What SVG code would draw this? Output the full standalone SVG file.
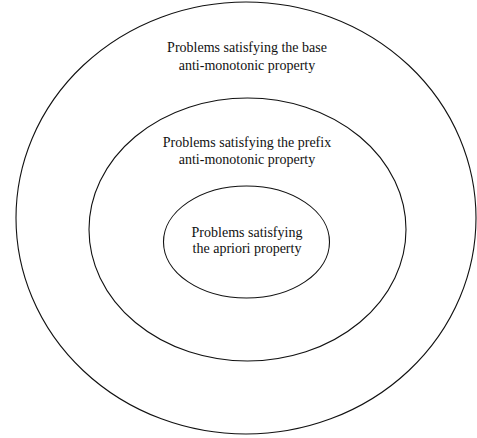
<svg xmlns="http://www.w3.org/2000/svg" width="477" height="438" viewBox="0 0 477 438">
<style>
.set{fill:none;stroke:#111;stroke-width:1.1}
.lbl{font-family:"Liberation Serif","Times New Roman",serif;font-size:14px;fill:#111;text-anchor:middle}
</style>
<rect width="477" height="438" fill="#fff"/>
<g id="outer">
<ellipse class="set" cx="246" cy="218" rx="230" ry="216"/>
<text class="lbl" x="247" y="52">Problems satisfying the base</text>
<text class="lbl" x="247" y="69.5">anti-monotonic property</text>
</g>
<g id="middle">
<ellipse class="set" cx="247.5" cy="229.5" rx="158.5" ry="131.5"/>
<text class="lbl" x="247" y="147">Problems satisfying the prefix</text>
<text class="lbl" x="247" y="164">anti-monotonic property</text>
</g>
<g id="inner">
<ellipse class="set" cx="246.5" cy="242" rx="83" ry="56"/>
<text class="lbl" x="247" y="237">Problems satisfying</text>
<text class="lbl" x="247" y="253">the apriori property</text>
</g>
<g id="connectors"></g>
</svg>
